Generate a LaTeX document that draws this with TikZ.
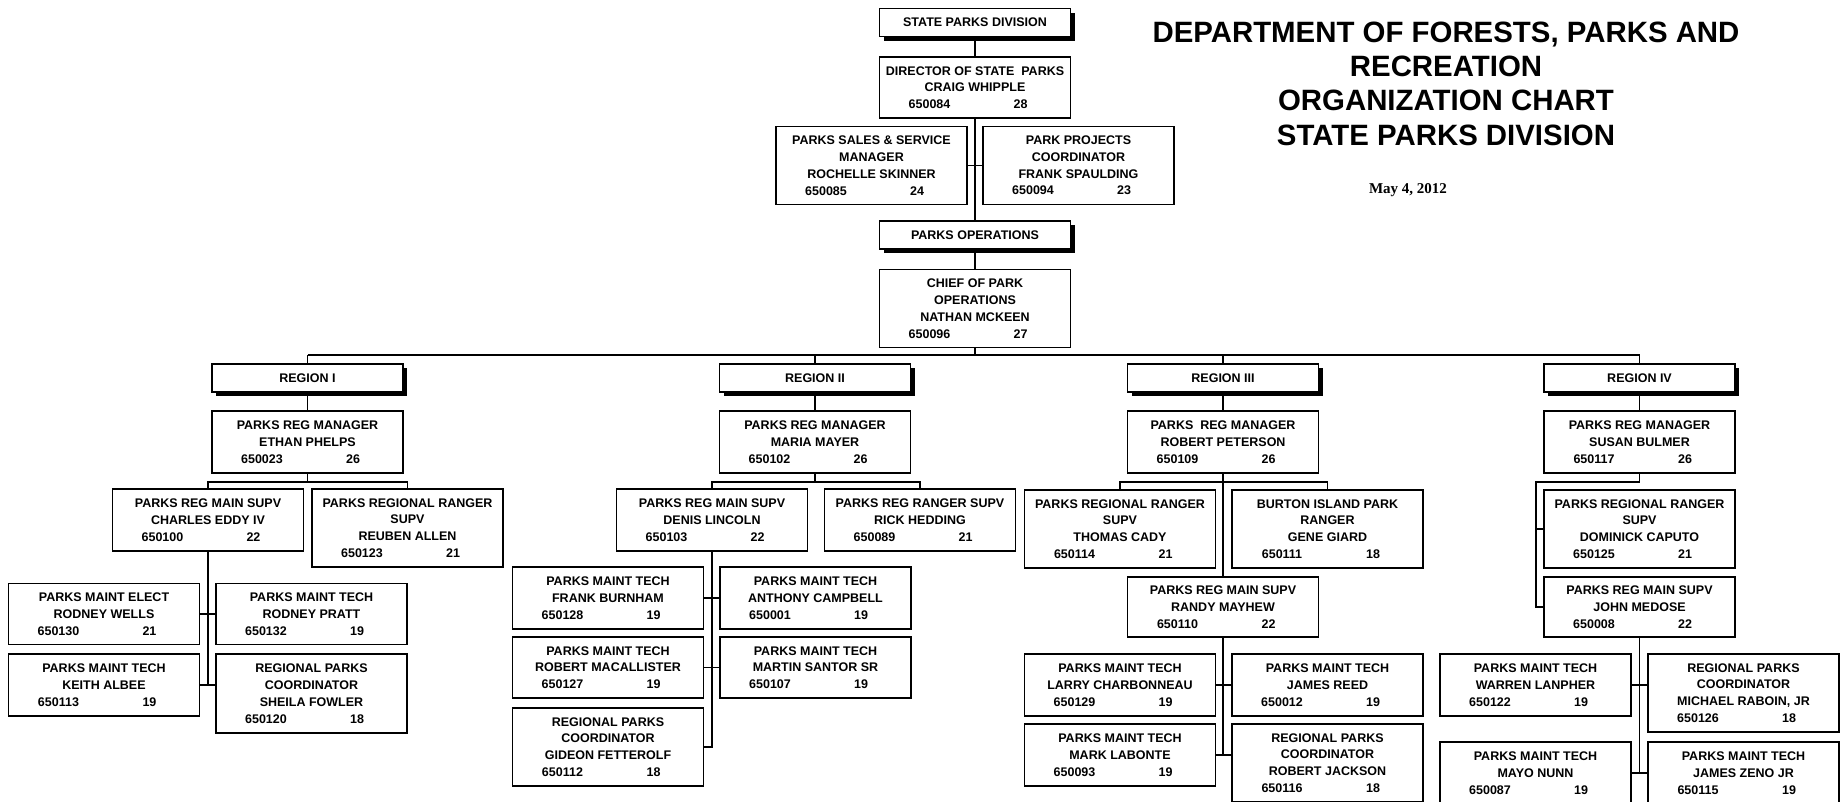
\documentclass[tikz,border=0pt]{standalone}
\usepackage{fontspec}
\setmainfont{Liberation Sans}
\newfontfamily\datefont{Liberation Serif}
\usetikzlibrary{shadows}
\newcommand{\idg}[2]{\makebox[91pt]{#1}\makebox[91pt]{#2}}
\begin{document}
\begin{tikzpicture}[x=1pt,y=-1pt,
  every node/.style={font=\fontsize{12.5}{16.8}\selectfont\bfseries},
  pbox/.style={draw, line width=1.9pt, inner sep=0pt, minimum width=191pt, align=center, fill=white},
  hbox/.style={pbox, minimum height=28pt, drop shadow={shadow xshift=4pt, shadow yshift=-4pt, fill=black, opacity=1}},
  hthree/.style={pbox, minimum height=62pt},
  hfour/.style={pbox, minimum height=78pt},
  conn/.style={line width=1.9pt},
  titletext/.style={font=\fontsize{29.4}{34.3}\selectfont\bfseries, align=center},
  datetext/.style={font=\datefont\fontsize{15}{18}\selectfont\bfseries}]
\useasboundingbox (0,0) rectangle (1841,801);

% title
\node[titletext] (title) at (1446,83.5) {DEPARTMENT OF FORESTS, PARKS AND\\RECREATION\\ORGANIZATION CHART\\STATE PARKS DIVISION};
\node[datetext] (date) at (1408,190) {May 4, 2012};

% top
\node[hbox] (spd) at (975,22.5) {STATE PARKS DIVISION};
\node[hthree, minimum height=61pt] (dir) at (975,87.5) {DIRECTOR OF STATE\ \ PARKS\\CRAIG WHIPPLE\\\idg{650084}{28}};
\node[hfour] (sales) at (871.5,165.5) {PARKS SALES \& SERVICE\\MANAGER\\ROCHELLE SKINNER\\\idg{650085}{24}};
\node[hfour] (proj) at (1078.5,165.5) {PARK PROJECTS\\COORDINATOR\\FRANK SPAULDING\\\idg{650094}{23}};
\node[hbox] (ops) at (975,235) {PARKS OPERATIONS};
\node[hfour] (chief) at (975,308.5) {CHIEF OF PARK\\OPERATIONS\\NATHAN MCKEEN\\\idg{650096}{27}};

\coordinate (busL) at (307.5,355);
\coordinate (busR) at (1639.5,355);

% regions
\node[hbox] (r1) at (307.5,378) {REGION I};
\node[hbox] (r2) at (815,378) {REGION II};
\node[hbox] (r3) at (1223,378) {REGION III};
\node[hbox] (r4) at (1639.5,378) {REGION IV};

\node[hthree] (m1) at (307.5,442) {PARKS REG MANAGER\\ETHAN PHELPS\\\idg{650023}{26}};
\node[hthree] (m2) at (815,442) {PARKS REG MANAGER\\MARIA MAYER\\\idg{650102}{26}};
\node[hthree] (m3) at (1223,442) {PARKS\ \ REG MANAGER\\ROBERT PETERSON\\\idg{650109}{26}};
\node[hthree] (m4) at (1639.5,442) {PARKS REG MANAGER\\SUSAN BULMER\\\idg{650117}{26}};

\coordinate (b1) at (307.5,482);
\coordinate (b2) at (815,482);
\coordinate (b3) at (1223,482);
\coordinate (b4) at (1536,482);

% region I
\node[hthree] (charles) at (208,520) {PARKS REG MAIN SUPV\\CHARLES EDDY IV\\\idg{650100}{22}};
\node[hfour] (reuben) at (407.5,528) {PARKS REGIONAL RANGER\\SUPV\\REUBEN ALLEN\\\idg{650123}{21}};
\node[hthree, minimum height=61pt] (wells) at (104,614) {PARKS MAINT ELECT\\RODNEY WELLS\\\idg{650130}{21}};
\node[hthree, minimum height=61pt] (pratt) at (311.5,614) {PARKS MAINT TECH\\RODNEY PRATT\\\idg{650132}{19}};
\node[hthree] (albee) at (104,685) {PARKS MAINT TECH\\KEITH ALBEE\\\idg{650113}{19}};
\node[hfour, minimum height=79pt] (fowler) at (311.5,693.5) {REGIONAL PARKS\\COORDINATOR\\SHEILA FOWLER\\\idg{650120}{18}};

% region II
\node[hthree] (lincoln) at (712,520) {PARKS REG MAIN SUPV\\DENIS LINCOLN\\\idg{650103}{22}};
\node[hthree] (hedding) at (920,520) {PARKS REG RANGER SUPV\\RICK HEDDING\\\idg{650089}{21}};
\node[hthree] (burnham) at (608,598) {PARKS MAINT TECH\\FRANK BURNHAM\\\idg{650128}{19}};
\node[hthree] (campbell) at (815.5,598) {PARKS MAINT TECH\\ANTHONY CAMPBELL\\\idg{650001}{19}};
\node[hthree, minimum height=61pt] (macall) at (608,667.5) {PARKS MAINT TECH\\ROBERT MACALLISTER\\\idg{650127}{19}};
\node[hthree, minimum height=61pt] (santor) at (815.5,667.5) {PARKS MAINT TECH\\MARTIN SANTOR SR\\\idg{650107}{19}};
\node[hfour] (fetter) at (608,747) {REGIONAL PARKS\\COORDINATOR\\GIDEON FETTEROLF\\\idg{650112}{18}};

% region III
\node[hfour] (cady) at (1120,529) {PARKS REGIONAL RANGER\\SUPV\\THOMAS CADY\\\idg{650114}{21}};
\node[hfour] (giard) at (1327.5,529) {BURTON ISLAND PARK\\RANGER\\GENE GIARD\\\idg{650111}{18}};
\node[hthree, minimum height=60pt] (mayhew) at (1223,607) {PARKS REG MAIN SUPV\\RANDY MAYHEW\\\idg{650110}{22}};
\node[hthree] (charb) at (1120,685) {PARKS MAINT TECH\\LARRY CHARBONNEAU\\\idg{650129}{19}};
\node[hthree] (reed) at (1327.5,685) {PARKS MAINT TECH\\JAMES REED\\\idg{650012}{19}};
\node[hthree] (labonte) at (1120,755) {PARKS MAINT TECH\\MARK LABONTE\\\idg{650093}{19}};
\node[hfour] (jackson) at (1327.5,763) {REGIONAL PARKS\\COORDINATOR\\ROBERT JACKSON\\\idg{650116}{18}};

% region IV
\node[hfour] (caputo) at (1639.5,529) {PARKS REGIONAL RANGER\\SUPV\\DOMINICK CAPUTO\\\idg{650125}{21}};
\node[hthree, minimum height=60pt] (medose) at (1639.5,607) {PARKS REG MAIN SUPV\\JOHN MEDOSE\\\idg{650008}{22}};
\node[hthree] (lanpher) at (1535.5,685) {PARKS MAINT TECH\\WARREN LANPHER\\\idg{650122}{19}};
\node[hfour] (raboin) at (1743.5,693) {REGIONAL PARKS\\COORDINATOR\\MICHAEL RABOIN, JR\\\idg{650126}{18}};
\node[hthree] (nunn) at (1535.5,773) {PARKS MAINT TECH\\MAYO NUNN\\\idg{650087}{19}};
\node[hthree] (zeno) at (1743.5,773) {PARKS MAINT TECH\\JAMES ZENO JR\\\idg{650115}{19}};

% connectors: top
\draw[conn] (spd.south) -- (dir.north);
\draw[conn] (dir.south) -- (ops.north);
\draw[conn] (sales.east) -- (proj.west);
\draw[conn] (ops.south) -- (chief.north);
\draw[conn] (chief.south) -- (chief.south |- busL);
\draw[conn] (busL) -- (busR);
\foreach \r/\m in {r1/m1, r2/m2, r3/m3, r4/m4} {
  \draw[conn] (\r.north) -- (\r.north |- busL);
  \draw[conn] (\r.south) -- (\m.north);
}

% region I
\draw[conn] (m1.south) -- (b1);
\draw[conn] (charles.north) -- (charles.north |- b1) -- (reuben.north |- b1) -- (reuben.north);
\draw[conn] (charles.south) -- (charles.south |- albee.east);
\draw[conn] (wells.east) -- (pratt.west);
\draw[conn] (albee.east) -- (fowler.west |- albee.east);

% region II
\draw[conn] (m2.south) -- (b2);
\draw[conn] (lincoln.north) -- (lincoln.north |- b2) -- (hedding.north |- b2) -- (hedding.north);
\draw[conn] (lincoln.south) -- (lincoln.south |- fetter.east) -- (fetter.east);
\draw[conn] (burnham.east) -- (campbell.west);
\draw[conn] (macall.east) -- (santor.west);

% region III
\draw[conn] (m3.south) -- (mayhew.north);
\draw[conn] (cady.north) -- (cady.north |- b3) -- (giard.north |- b3) -- (giard.north);
\draw[conn] (mayhew.south) -- (mayhew.south |- labonte.east);
\draw[conn] (charb.east) -- (reed.west);
\draw[conn] (labonte.east) -- (jackson.west |- labonte.east);

% region IV
\draw[conn] (m4.south) |- (b4) |- (medose.west);
\draw[conn] (b4 |- caputo.west) -- (caputo.west);
\draw[conn] (medose.south) -- (medose.south |- nunn.east);
\draw[conn] (lanpher.east) -- (raboin.west |- lanpher.east);
\draw[conn] (nunn.east) -- (zeno.west);
\end{tikzpicture}
\end{document}
